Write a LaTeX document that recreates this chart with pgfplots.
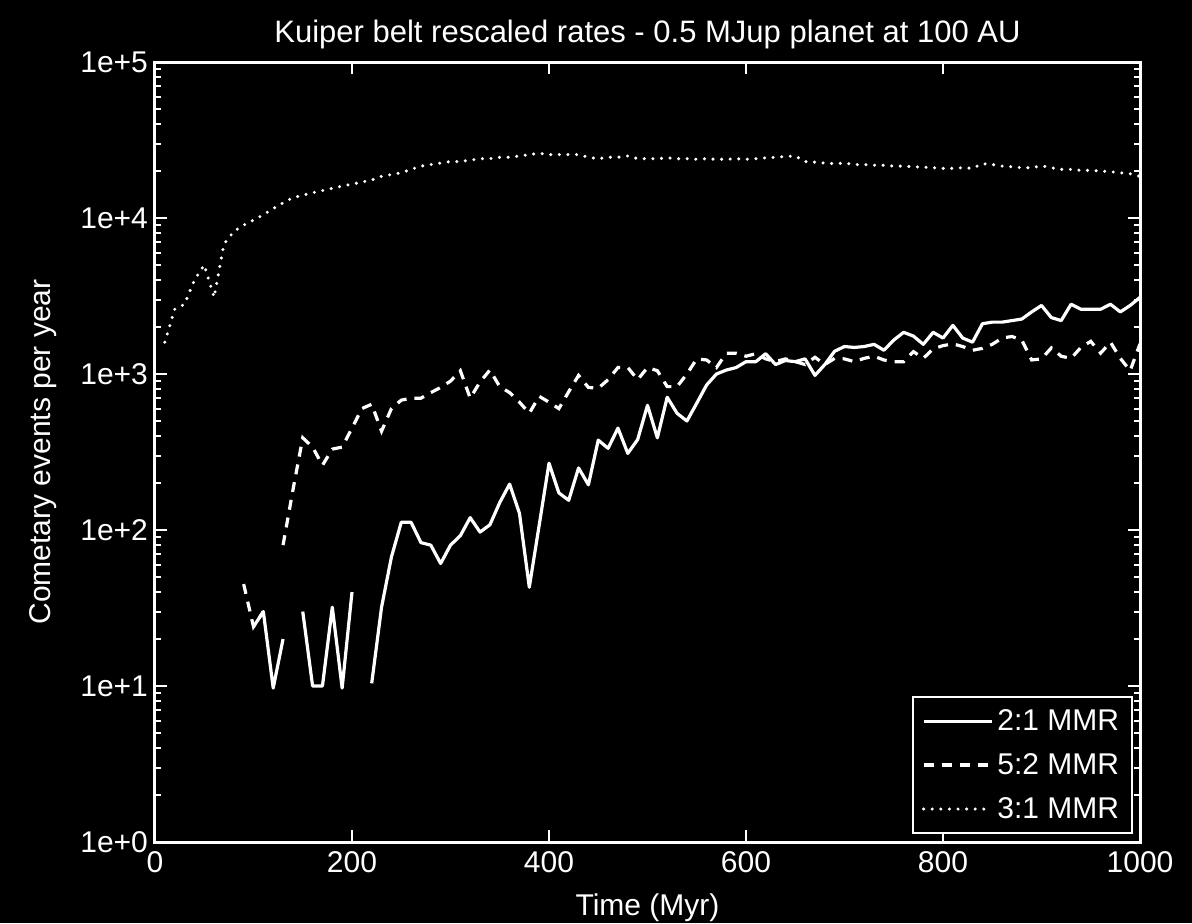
\documentclass[border=0pt]{standalone}
\usepackage{fontspec}
\setmainfont{Liberation Sans}
\usepackage{pgfplots}
\pgfplotsset{compat=1.18}
\usetikzlibrary{backgrounds}

\begin{document}
\begin{tikzpicture}
\begin{axis}[
    name=ax, at={(0,0)}, anchor=south west,
    scale only axis, width=492.5pt, height=390pt,
    ymode=log,
    xmin=0, xmax=1000, ymin=1, ymax=1e5,
    xtick={0,200,400,600,800,1000},
    ytick={1,10,100,1000,10000,100000},
    yticklabels={1e+0,1e+1,1e+2,1e+3,1e+4,1e+5},
    minor ytick={2,3,4,5,6,7,8,9,20,30,40,50,60,70,80,90,200,300,400,500,600,700,800,900,2000,3000,4000,5000,6000,7000,8000,9000,20000,30000,40000,50000,60000,70000,80000,90000},
    /pgf/number format/assume math mode=true,
    /pgf/number format/1000 sep={},
    axis line style={white, line width=1.5pt},
    every tick/.style={white, line width=1pt},
    major tick length=6pt, minor tick length=3pt,
    tick label style={white, font=\fontsize{15}{18}\selectfont},
    xticklabel style={yshift=-1pt},
    xlabel={Time (Myr)}, ylabel={Cometary events per year},
    label style={white, font=\fontsize{15}{18}\selectfont},
    xlabel style={yshift=-4pt},
    ylabel style={yshift=5pt},
    title={Kuiper belt rescaled rates - 0.5 MJup planet at 100 AU},
    title style={white, font=\fontsize{15.5}{18}\selectfont, yshift=-3pt},
    unbounded coords=jump,
    legend style={at={(1,0)}, anchor=south east, xshift=-3.5pt, yshift=4pt,
        fill=black, draw=white, line width=1pt, text=white,
        font=\fontsize{15}{18}\selectfont, row sep=6pt,
        inner xsep=4.5pt, inner ysep=4pt},
    legend cell align=left,
    legend image code/.code={\draw[#1] (0pt,0pt) -- (34pt,0pt);},
]

\addplot[white, line width=1.6pt, line join=round] coordinates {
(100,24)(110,30)(120,9.7)(130,20)(140,nan)(150,30)(160,10)(170,10)(180,32)(190,9.7)(200,40)(210,nan)
(220,10.4)(230,32)(240,67)(250,112)(260,112)(270,83)(280,80)(290,61)(300,80)(310,92)(320,120)
(330,97)(340,108)(350,150)(360,197)(370,128)(380,43)(390,107)(400,268)(410,173)(420,155)(430,250)
(440,195)(450,377)(460,334)(470,450)(480,310)(490,380)(500,630)(510,390)(520,710)(530,560)(540,500)
(550,650)(560,850)(570,1000)(580,1060)(590,1100)(600,1200)(610,1200)(620,1350)(630,1150)(640,1220)
(650,1200)(660,1250)(670,980)(680,1150)(690,1400)(700,1500)(710,1480)(720,1500)(730,1550)(740,1420)
(750,1650)(760,1850)(770,1750)(780,1550)(790,1850)(800,1700)(810,2050)(820,1700)(830,1600)(840,2100)
(850,2150)(860,2150)(870,2200)(880,2250)(890,2500)(900,2750)(910,2300)(920,2200)(930,2800)(940,2600)
(950,2600)(960,2600)(970,2800)(980,2500)(990,2750)(1000,3100)
};
\addlegendentry{2:1 MMR}

\addplot[white, line width=1.6pt, dash pattern=on 5pt off 4pt] coordinates {
(90,45)(100,24)(110,30)(120,nan)(130,80)(140,180)(150,390)(160,340)(170,260)(180,330)(190,340)
(200,450)(210,600)(220,640)(230,430)(240,600)(250,680)(260,700)(270,700)(280,760)(290,820)(300,900)
(310,1050)(320,700)(330,890)(340,1060)(350,830)(360,760)(370,660)(380,560)(390,720)(400,660)
(410,600)(420,770)(430,980)(440,820)(450,810)(460,920)(470,1100)(480,1100)(490,920)(500,1100)
(510,1050)(520,830)(530,830)(540,1000)(550,1250)(560,1230)(570,1100)(580,1360)(590,1360)(600,1300)
(610,1350)(620,1250)(630,1200)(640,1250)(650,1200)(660,1150)(670,1280)(680,1150)(690,1260)(700,1250)
(710,1200)(720,1260)(730,1300)(740,1230)(750,1200)(760,1200)(770,1390)(780,1260)(790,1450)(800,1520)
(810,1560)(820,1500)(830,1420)(840,1460)(850,1550)(860,1700)(870,1740)(880,1650)(890,1230)(900,1250)
(910,1470)(920,1300)(930,1260)(940,1480)(950,1620)(960,1360)(970,1600)(980,1260)(990,1050)(1000,1560)
};
\addlegendentry{5:2 MMR}

\addplot[white, line width=1.7pt, line cap=round, dash pattern=on 0pt off 4.3pt] coordinates {
(10,1600)(20,2600)(30,2800)(40,4000)(50,5000)(60,3100)(70,6800)(80,8200)(90,9000)(100,9700)
(110,10500)(120,11500)(130,12500)(140,13500)(150,14000)(160,14500)(170,15000)(180,15500)(190,16000)
(200,16500)(210,17000)(220,17500)(230,18500)(240,19000)(250,19500)(260,20500)(270,21500)(280,22000)
(290,22500)(300,23000)(310,23000)(320,23500)(330,24000)(340,24000)(350,24500)(360,24500)(370,25000)
(380,25500)(390,26000)(400,25500)(410,25500)(420,25500)(430,25500)(440,24500)(450,24000)(460,24500)
(470,24500)(480,25000)(490,24000)(500,24000)(510,24000)(520,24300)(530,24000)(540,24000)(550,23800)
(560,24000)(570,23800)(580,23800)(590,24000)(600,23800)(610,24000)(620,24300)(630,24500)(640,24800)
(650,25000)(660,23000)(670,22800)(680,22500)(690,22300)(700,22500)(710,22000)(720,22000)(730,21800)
(740,21800)(750,21500)(760,21500)(770,21300)(780,21200)(790,21000)(800,20800)(810,20800)(820,21000)
(830,20800)(840,22300)(850,22000)(860,21500)(870,21300)(880,21000)(890,21000)(900,21600)(910,21000)
(920,20500)(930,20500)(940,20200)(950,20200)(960,20000)(970,19800)(980,19500)(990,19200)(1000,18500)
};
\addlegendentry{3:1 MMR}
\end{axis}
\pgfresetboundingbox
\begin{pgfonlayer}{background}
\fill[black] (-77.5pt,-40.5pt) rectangle (518.5pt,421pt);
\end{pgfonlayer}
\useasboundingbox (-77.5pt,-40.5pt) rectangle (518.5pt,421pt);
\end{tikzpicture}
\end{document}
